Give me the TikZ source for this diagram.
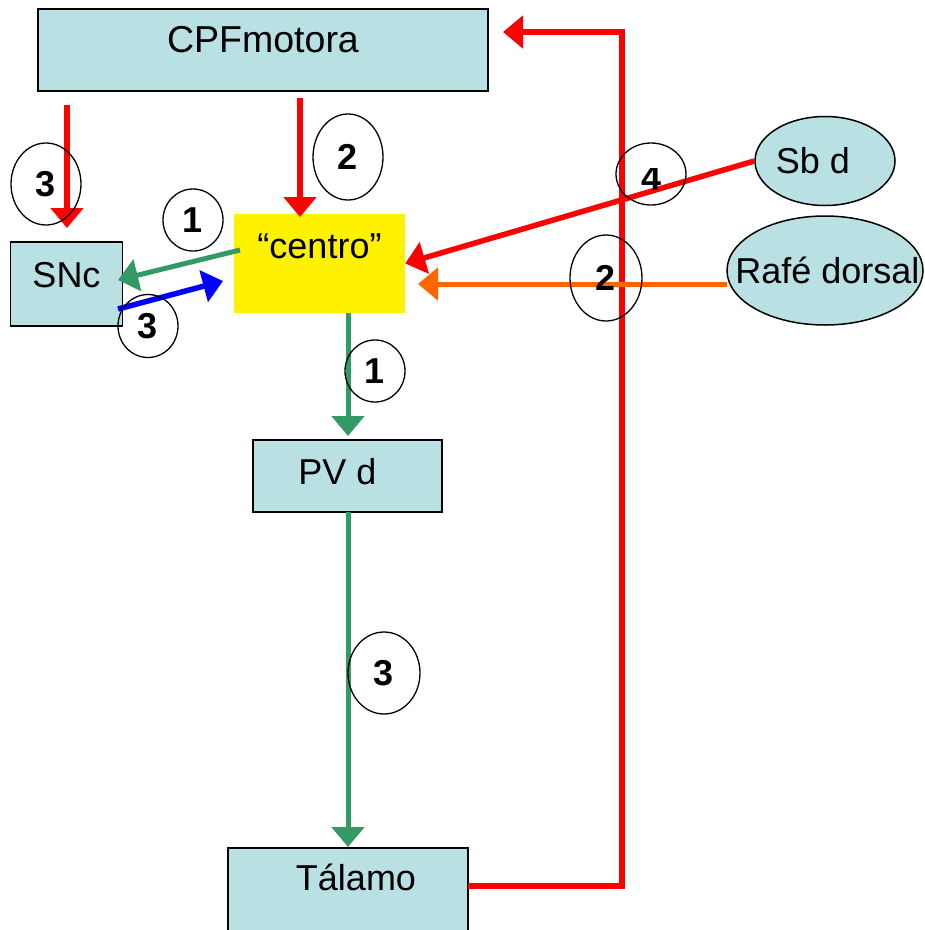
\documentclass[tikz,border=0pt]{standalone}
\usepackage{fontspec}
\setmainfont{Liberation Sans}
\usetikzlibrary{arrows.meta,shapes.geometric}
\definecolor{boxblue}{RGB}{185,224,227}
\definecolor{linkgreen}{RGB}{51,153,102}
\definecolor{linkorange}{RGB}{255,102,0}
\begin{document}
\begin{tikzpicture}[x=1pt,y=-1pt,
  labelfont/.style={font=\fontsize{36}{40}\selectfont},
  box/.style={draw=black,line width=1.5pt,fill=boxblue,inner sep=0pt,labelfont},
  oval/.style={ellipse,draw=black,line width=1.5pt,fill=boxblue,inner sep=0pt,labelfont},
  numfont/.style={font=\fontsize{36}{40}\selectfont\bfseries},
  num/.style={ellipse,draw=black,line width=1.3pt,inner sep=0pt,numfont},
  link/.style={line width=5.5pt,-{Triangle[width=32pt,length=20pt]}},
]
\useasboundingbox (0,0) rectangle (925,930);

% boxes and ovals
\node[box,minimum width=450pt,minimum height=82pt,font=\fontsize{37.5}{42}\selectfont] (cpf) at (263,50) {\raisebox{22pt}{CPFmotora}};
\node[box,minimum width=112pt,minimum height=84pt] (snc) at (66.5,284) {\raisebox{18pt}{SNc}};
\node[fill=yellow,inner sep=0pt,minimum width=171pt,minimum height=99pt,labelfont] (centro) at (319.5,263.5) {\raisebox{35pt}{“centro”}};
\node[box,minimum width=189pt,minimum height=72pt] (pvd) at (347.5,476) {\raisebox{10pt}{\hspace{-20pt}PV d}};
\node[box,minimum width=240pt,minimum height=100pt] (tal) at (348,898) {\raisebox{41pt}{Tálamo\hspace{-16pt}}};
\node[oval,minimum width=140pt,minimum height=89pt] (sbd) at (825,161) {\raisebox{-5pt}{\makebox[0pt]{\hspace{-24pt}Sb d}}};
\node[oval,minimum width=196pt,minimum height=109pt] (rafe) at (825,270.5) {\makebox[0pt]{Rafé dorsal\hspace{-5pt}}};

% free ends of the connectors
\coordinate (r3s) at (67,105);   \coordinate (r3e) at (67,228);
\coordinate (r2s) at (300,98);   \coordinate (r2e) at (300,217);
\coordinate (fbs) at (468,886);  \coordinate (fbc1) at (622,886);
\coordinate (fbc2) at (622,32);  \coordinate (fbe) at (503,32);
\coordinate (ors) at (727,284);  \coordinate (ore) at (418,284);
\coordinate (g1s) at (240,250);  \coordinate (g1e) at (118,280);
\coordinate (bls) at (118,309);  \coordinate (ble) at (223,281);
\coordinate (g2s) at (348,313);  \coordinate (g2e) at (348,436);
\coordinate (g3s) at (348,512);  \coordinate (g3e) at (348,847);

% connectors
\draw[link,red] (r3s) -- (r3e);
\draw[link,red] (r2s) -- (r2e);
\draw[link,red] (fbs) -- (fbc1) -- (fbc2) -- (fbe);
\draw[link,red] (sbd.west) -- (centro.east);
\draw[link,linkorange,line width=5pt] (ors) -- (ore);
\draw[link,linkgreen,line width=5pt] (g1s) -- (g1e);
\draw[link,blue] (bls) -- (ble);
\draw[link,linkgreen,line width=5pt] (g2s) -- (g2e);
\draw[link,linkgreen,line width=5pt] (g3s) -- (g3e);

% numbered rings
\node[num,minimum width=70pt,minimum height=82pt] (n3a) at (46,184) {3};
\node[num,minimum width=70pt,minimum height=86pt] (n2a) at (348,157) {2};
\node[num,minimum width=60pt,minimum height=62pt] (n1a) at (193,220) {1};
\node[num,minimum width=60pt,minimum height=63pt] (n3b) at (148,326) {3};
\node[num,minimum width=70pt,minimum height=62pt] (n4) at (651,174) {};
% the 4 sits low in its ring, its top cut off
\begin{scope}
  \clip (630,168) rectangle (676,196);
  \node[numfont,inner sep=0pt,anchor=base] (n4digit) at (652,190) {4};
\end{scope}
\node[num,minimum width=72pt,minimum height=86pt] (n2b) at (606,278) {2};
\node[num,minimum width=60pt,minimum height=62pt] (n1c) at (375,371) {1};
\node[num,minimum width=72pt,minimum height=82pt] (n3c) at (384,673) {3};
\end{tikzpicture}
\end{document}
